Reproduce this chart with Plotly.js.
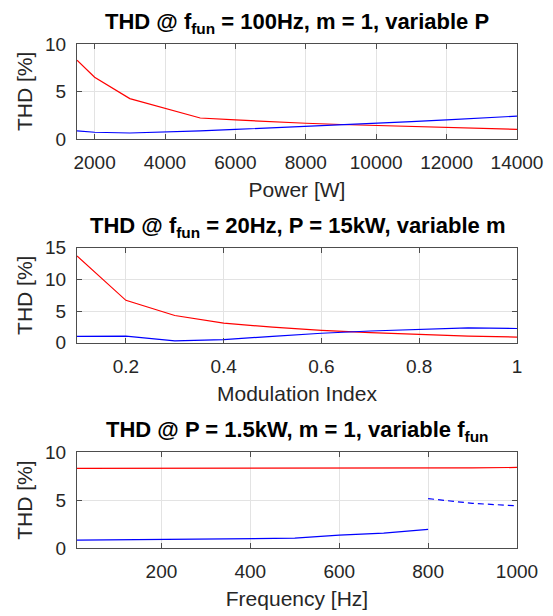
<!DOCTYPE html>
<html><head><meta charset="utf-8">
<script src="https://cdn.plot.ly/plotly-3.0.1.min.js"></script>
<style>html,body{margin:0;padding:0;background:#fff}</style>
</head><body>
<div id="chart" style="width:553px;height:616px"></div>
<script>
// Plot 1: variable power
const powerW = [1500, 2000, 3000, 4000, 5000, 6000, 7000, 8000, 9000, 10000, 11000, 12000, 13000, 14000];
const thdRedP = [8.3, 6.5, 4.25, 3.2, 2.2, 2.0, 1.8, 1.65, 1.52, 1.42, 1.32, 1.22, 1.1, 1.0];
const thdBlueP = [0.85, 0.7, 0.62, 0.7, 0.85, 1.0, 1.15, 1.3, 1.47, 1.65, 1.82, 2.0, 2.2, 2.4];
// Plot 2: variable modulation index
const modIdx = [0.1, 0.2, 0.3, 0.4, 0.5, 0.6, 0.7, 0.8, 0.9, 1.0];
const thdRedM = [13.7, 6.7, 4.3, 3.1, 2.45, 1.95, 1.6, 1.3, 1.05, 0.9];
const thdBlueM = [1.0, 1.05, 0.3, 0.5, 1.0, 1.5, 1.85, 2.15, 2.35, 2.25];
// Plot 3: variable fundamental frequency
const freqHz = [10, 100, 200, 300, 400, 500, 600, 700, 800, 900, 1000];
const thdRedF = [8.3, 8.3, 8.3, 8.3, 8.3, 8.3, 8.3, 8.3, 8.35, 8.35, 8.4];
const freqSolid = [10, 100, 200, 300, 400, 500, 600, 700, 800];
const thdBlueFSolid = [0.82, 0.85, 0.88, 0.92, 0.97, 1.02, 1.35, 1.55, 1.95];
const freqDash = [800, 900, 1000];
const thdBlueFDash = [5.15, 4.65, 4.4];

const titles = [
  'THD @ f<sub>fun</sub> = 100Hz, m = 1, variable P',
  'THD @ f<sub>fun</sub> = 20Hz, P = 15kW, variable m',
  'THD @ P = 1.5kW, m = 1, variable f<sub>fun</sub>'
];
const xTitles = ['Power [W]', 'Modulation Index', 'Frequency [Hz]'];
const yTitle = 'THD [%]';
const xTicks1 = [2000, 4000, 6000, 8000, 10000, 12000, 14000];
const xTicks2 = [0.2, 0.4, 0.6, 0.8, 1];
const xTicks3 = [200, 400, 600, 800, 1000];
const yTicks10 = [0, 5, 10];
const yTicks15 = [0, 5, 10, 15];

const red = '#ff0000', blue = '#0000ff';
const txt = '#262626';
const axc = '#4d4d4d';
const font = 'Liberation Sans, Arial, sans-serif';

function ln(x, y, c, xa, ya, dash) {
  return {x: x, y: y, type: 'scatter', mode: 'lines', xaxis: xa, yaxis: ya,
    line: {color: c, width: 1.2, dash: dash || 'solid'}, hoverinfo: 'skip', showlegend: false};
}

const data = [
  ln(powerW, thdRedP, red, 'x', 'y'),
  ln(powerW, thdBlueP, blue, 'x', 'y'),
  ln(modIdx, thdRedM, red, 'x2', 'y2'),
  ln(modIdx, thdBlueM, blue, 'x2', 'y2'),
  ln(freqHz, thdRedF, red, 'x3', 'y3'),
  ln(freqSolid, thdBlueFSolid, blue, 'x3', 'y3'),
  ln(freqDash, thdBlueFDash, blue, 'x3', 'y3', '6px,4px')
];

function xax(range, tickvals, title, anchor) {
  return {range: range, tickvals: tickvals, ticktext: tickvals.map(String), anchor: anchor,
    showline: true, mirror: 'ticks',
    linecolor: axc, linewidth: 1, ticks: 'inside', ticklen: 5, tickcolor: axc,
    showgrid: true, gridcolor: '#e3e3e3', zeroline: false, ticklabelstandoff: 6,
    tickfont: {family: font, size: 19, color: txt},
    title: {text: title, font: {family: font, size: 21, color: txt}, standoff: 10}};
}
function yax(range, tickvals, domain, anchor) {
  return {range: range, tickvals: tickvals, domain: domain, anchor: anchor, showline: true, mirror: 'ticks',
    linecolor: axc, linewidth: 1, ticks: 'inside', ticklen: 5, tickcolor: axc,
    showgrid: true, gridcolor: '#e3e3e3', zeroline: false, ticklabelstandoff: 6,
    tickfont: {family: font, size: 19, color: txt},
    title: {text: yTitle, font: {family: font, size: 21, color: txt}, standoff: 6}};
}

const d1 = [0.8117, 1.0], d2 = [0.4073, 0.5956], d3 = [0, 0.1903];
const layout = {
  width: 553, height: 616,
  margin: {l: 77, r: 36, t: 44, b: 67.5},
  paper_bgcolor: '#fff', plot_bgcolor: '#fff',
  xaxis: xax([1500, 14000], xTicks1, xTitles[0], 'y'),
  yaxis: yax([0, 10], yTicks10, d1, 'x'),
  xaxis2: xax([0.1, 1], xTicks2, xTitles[1], 'y2'),
  yaxis2: yax([0, 15], yTicks15, d2, 'x2'),
  xaxis3: xax([10, 1000], xTicks3, xTitles[2], 'y3'),
  yaxis3: yax([0, 10], yTicks10, d3, 'x3'),
  annotations: titles.map(function (t, i) {
    const top = [d1[1], d2[1], d3[1]][i];
    return {text: '<b>' + t + '</b>', xref: 'paper', yref: 'paper', x: 0.5, y: top,
      xanchor: 'center', yanchor: 'bottom', yshift: 5, showarrow: false,
      font: {family: font, size: 22, color: '#000'}};
  })
};

Plotly.newPlot('chart', data, layout, {staticPlot: true, displayModeBar: false});
</script>
</body></html>
